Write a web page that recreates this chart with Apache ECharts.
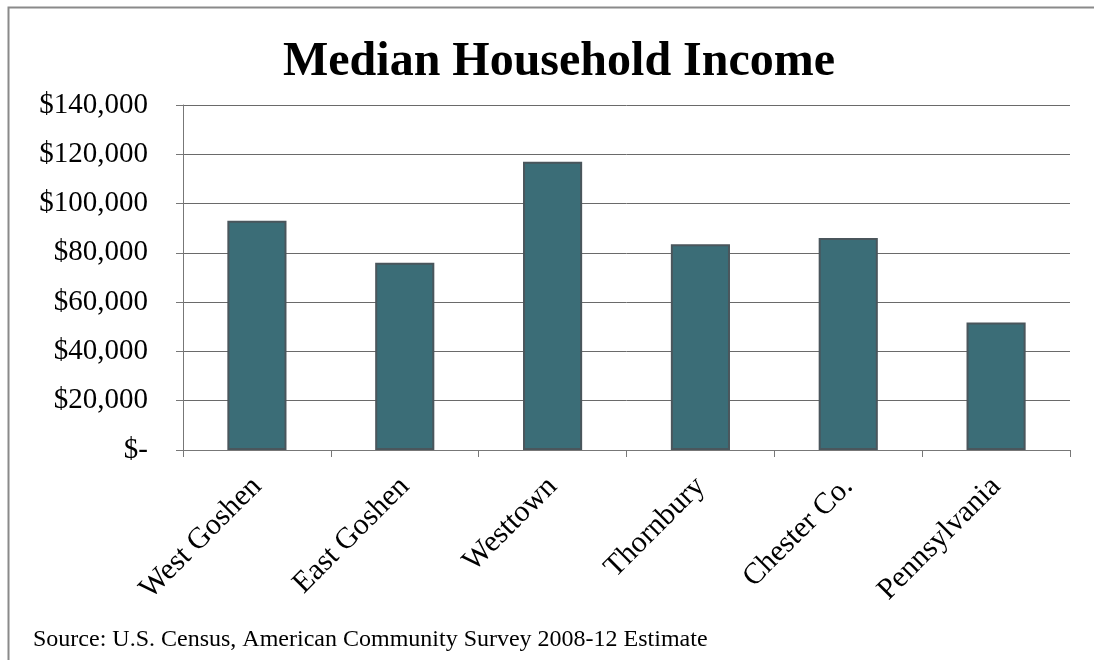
<!DOCTYPE html>
<html>
<head>
<meta charset="utf-8">
<style>
  html, body { margin: 0; padding: 0; background: #ffffff; }
  #chart { width: 1094px; height: 660px; }
</style>
<script src="https://cdn.jsdelivr.net/npm/echarts@6/dist/echarts.min.js"></script>
</head>
<body>
<div id="chart"></div>
<script>
// Median household income by area (ACS 2008-12 estimates)
const categories = ['West Goshen', 'East Goshen', 'Westtown', 'Thornbury', 'Chester Co.', 'Pennsylvania'];
const incomes = [93000, 76000, 117000, 83500, 86000, 51700];
const yTicks = [0, 20000, 40000, 60000, 80000, 100000, 120000, 140000];

const serif = '"Liberation Serif", "Times New Roman", "DejaVu Serif", serif';

function moneyLabel(v) {
  if (v === 0) return '$-';
  return '$' + v.toLocaleString('en-US');
}

const chart = echarts.init(document.getElementById('chart'));
chart.setOption({
  backgroundColor: '#ffffff',
  animation: false,
  title: {
    text: 'Median Household Income',
    left: 278,
    top: 34,
    textStyle: { fontFamily: serif, fontWeight: 'bold', fontSize: 48, color: '#000000' }
  },
  grid: { left: 183, right: 24, top: 105, bottom: 210, containLabel: false },
  xAxis: {
    type: 'category',
    data: categories,
    axisLine: { lineStyle: { color: '#777777', width: 1 } },
    axisTick: { show: true, length: 7, lineStyle: { color: '#777777' } },
    axisLabel: {
      rotate: 45,
      margin: 32,
      interval: 0,
      fontFamily: serif,
      fontSize: 30,
      color: '#000000'
    }
  },
  yAxis: {
    type: 'value',
    min: yTicks[0],
    max: yTicks[yTicks.length - 1],
    interval: yTicks[1] - yTicks[0],
    axisLine: { show: true, lineStyle: { color: '#777777', width: 1 } },
    axisTick: { show: true, length: 7, lineStyle: { color: '#777777' } },
    splitLine: { lineStyle: { color: '#6a6a6a', width: 1 } },
    axisLabel: {
      margin: 35,
      fontFamily: serif,
      fontSize: 29,
      color: '#000000',
      formatter: moneyLabel
    }
  },
  series: [{
    type: 'bar',
    data: incomes,
    barWidth: '40%',
    itemStyle: {
      color: '#3b6d77',
      borderColor: '#4a565c',
      borderWidth: 2
    }
  }],
  graphic: [
    {
      type: 'polyline',
      shape: { points: [[8.5, 660], [8.5, 7.5], [1094, 7.5]] },
      style: { stroke: '#8a8a8a', lineWidth: 2, fill: null },
      silent: true
    },
    {
      type: 'text',
      left: 33,
      top: 628,
      style: {
        text: 'Source: U.S. Census, American Community Survey 2008-12 Estimate',
        fontFamily: serif,
        fontSize: 24,
        fill: '#000000'
      }
    }
  ]
});
</script>
</body>
</html>
